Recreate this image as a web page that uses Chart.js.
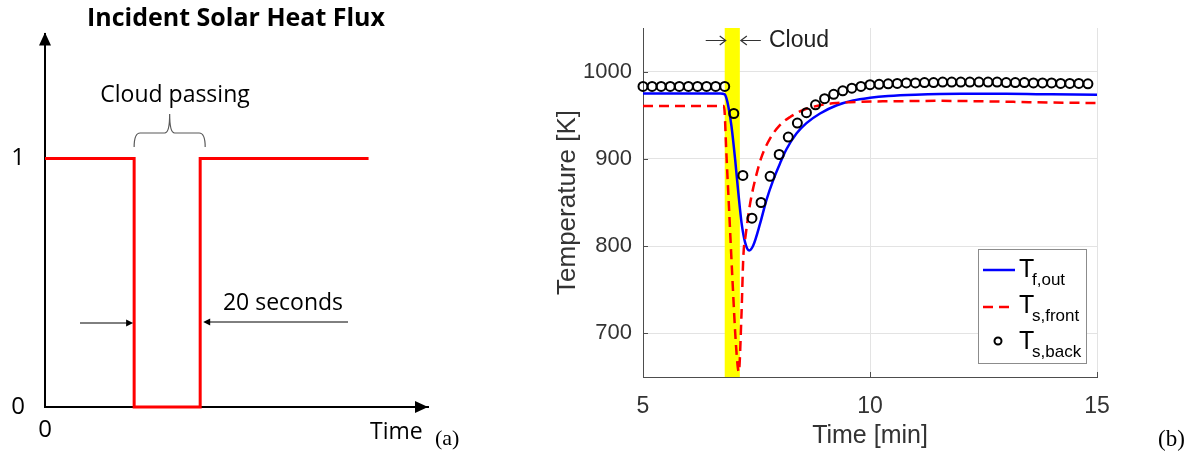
<!DOCTYPE html>
<html>
<head>
<meta charset="utf-8">
<script src="https://cdn.jsdelivr.net/npm/chart.js@4.4.0/dist/chart.umd.min.js"></script>
<style>
  html, body { margin: 0; padding: 0; background: #fff; }
  body { width: 1188px; height: 453px; position: relative; overflow: hidden; }
  #flux { position: absolute; left: 0; top: 0; }
  #temp { position: absolute; left: 470px; top: 0; }
</style>
</head>
<body>
<canvas id="flux" width="470" height="453"></canvas>
<canvas id="temp" width="718" height="453"></canvas>
<script>
// (a) normalised incident flux, time in seconds (cloud lasts 20 s)
const fluxTime = [0, 27, 27, 47, 47, 98];
const fluxValue = [1, 1, 0, 0, 1, 1];
const fluxXTicks = [0];
const fluxYTicks = [0, 1];

// (b) temperatures, time in minutes
const tempXTicks = [5, 10, 15];
const tempYTicks = [700, 800, 900, 1000];
const cloudStart = 6.8;
const cloudEnd = 7.133;

const tfTime = [5.0, 6.70, 6.80, 6.84, 6.88, 6.95, 7.03, 7.10, 7.17, 7.25, 7.34, 7.43, 7.58, 7.72, 7.87,
  8.02, 8.16, 8.38, 8.60, 8.90, 9.27, 9.63, 10.0, 10.4, 11.0, 12.0, 13.0, 14.0, 15.0];
const tfValue = [975, 975, 974, 969, 960, 937, 899, 861, 827, 804, 795, 801, 826, 853, 876,
  895, 911, 929, 941, 952, 961.5, 967, 970, 972, 973.5, 974.5, 974.5, 974, 973.5];

const frontTime = [5.0, 6.78, 6.80, 6.83, 6.90, 6.97, 7.05, 7.11, 7.17, 7.21, 7.26, 7.30, 7.36, 7.47,
  7.61, 7.80, 8.02, 8.24, 8.53, 8.90, 9.27, 9.78, 10.5, 11.5, 12.5, 13.5, 15.0];
const frontValue = [960.5, 960.5, 952, 914, 838, 762, 685, 656, 723, 788, 812, 828, 849, 876,
  902, 923.5, 939, 948, 956, 961.5, 964, 965.5, 966, 966.5, 966, 965, 964];

const backTime = [5.0, 5.2, 5.4, 5.6, 5.8, 6.0, 6.2, 6.4, 6.6, 6.8,
  7.0, 7.2, 7.4, 7.6, 7.8, 8.0, 8.2, 8.4, 8.6, 8.8, 9.0, 9.2, 9.4, 9.6, 9.8, 10.0,
  10.2, 10.4, 10.6, 10.8, 11.0, 11.2, 11.4, 11.6, 11.8, 12.0, 12.2, 12.4, 12.6, 12.8,
  13.0, 13.2, 13.4, 13.6, 13.8, 14.0, 14.2, 14.4, 14.6, 14.8];
const backValue = [983, 983, 983, 983, 983, 983, 983, 983, 983, 983,
  952, 881, 832, 850, 880, 905, 925, 941, 953, 962, 969, 974, 978, 981, 983, 985,
  985.5, 986, 986.5, 987, 987, 987.5, 987.5, 988, 988, 988, 988, 988, 988, 988,
  987.5, 987.5, 987.5, 987, 987, 987, 986.5, 986.5, 986.5, 986];

const seriesSub = ['f,out', 's,front', 's,back'];

const toXY = (xs, ys) => xs.map((x, i) => ({ x: x, y: ys[i] }));

const SANS = '"Liberation Sans", Arial, sans-serif';
const CAL = '"Open Sans", sans-serif';
const SERIF = '"Liberation Serif", "Times New Roman", serif';

function filledArrow(ctx, xFrom, xTo, y) {
  const d = Math.sign(xTo - xFrom);
  ctx.beginPath();
  ctx.moveTo(xFrom, y);
  ctx.lineTo(xTo - d * 5, y);
  ctx.stroke();
  ctx.beginPath();
  ctx.moveTo(xTo, y);
  ctx.lineTo(xTo - d * 7, y - 3.5);
  ctx.lineTo(xTo - d * 7, y + 3.5);
  ctx.closePath();
  ctx.fill();
}

function openArrow(ctx, xFrom, xTo, y) {
  const d = Math.sign(xTo - xFrom);
  ctx.beginPath();
  ctx.moveTo(xFrom, y);
  ctx.lineTo(xTo, y);
  ctx.moveTo(xTo - d * 6, y - 4.5);
  ctx.lineTo(xTo, y);
  ctx.lineTo(xTo - d * 6, y + 4.5);
  ctx.stroke();
}

const fluxDecor = {
  id: 'fluxDecor',
  afterDraw(chart) {
    const { ctx, chartArea: a, scales: { x } } = chart;
    ctx.save();
    ctx.fillStyle = '#000';
    // arrow heads on both axes
    ctx.beginPath();
    ctx.moveTo(a.left, a.top - 2);
    ctx.lineTo(a.left - 6, a.top + 11);
    ctx.lineTo(a.left + 6, a.top + 11);
    ctx.closePath();
    ctx.fill();
    ctx.beginPath();
    ctx.moveTo(a.right, a.bottom);
    ctx.lineTo(a.right - 13, a.bottom - 6);
    ctx.lineTo(a.right - 13, a.bottom + 6);
    ctx.closePath();
    ctx.fill();

    ctx.textBaseline = 'alphabetic';
    ctx.textAlign = 'center';
    ctx.font = 'bold 25px ' + CAL;
    ctx.fillText('Incident Solar Heat Flux', 236, 26);
    ctx.font = '23px ' + CAL;
    ctx.fillText('Cloud passing', 175, 102);
    ctx.fillText('20 seconds', 283, 310);
    ctx.textAlign = 'left';
    ctx.fillText('Time', 370, 439);
    ctx.font = '22px ' + SERIF;
    ctx.fillText('(a)', 435, 445);

    // brace over the cloud interval
    const x0 = x.getPixelForValue(fluxTime[1]);
    const x1 = x.getPixelForValue(fluxTime[3]) + 5;
    const mid = (x0 + x1) / 2;
    ctx.strokeStyle = '#595959';
    ctx.lineWidth = 1.2;
    ctx.beginPath();
    ctx.moveTo(x0, 147);
    ctx.quadraticCurveTo(x0, 133, x0 + 6, 133);
    ctx.lineTo(mid - 5, 133);
    ctx.quadraticCurveTo(mid, 133, mid, 114);
    ctx.quadraticCurveTo(mid, 133, mid + 5, 133);
    ctx.lineTo(x1 - 6, 133);
    ctx.quadraticCurveTo(x1, 133, x1, 147);
    ctx.stroke();

    // 20 s dimension arrows
    ctx.strokeStyle = '#000';
    ctx.lineWidth = 1;
    filledArrow(ctx, 80, x0 - 1, 323);
    filledArrow(ctx, 348, x.getPixelForValue(fluxTime[3]) + 3, 322);
    ctx.restore();
  }
};

new Chart(document.getElementById('flux'), {
  type: 'line',
  data: {
    datasets: [{
      data: toXY(fluxTime, fluxValue),
      borderColor: '#ff0000',
      borderWidth: 3,
      borderJoinStyle: 'miter',
      pointRadius: 0,
      tension: 0,
      clip: false
    }]
  },
  options: {
    responsive: false,
    animation: false,
    events: [],
    layout: { padding: { left: 0, right: 42, top: 29, bottom: 0 } },
    plugins: { legend: { display: false }, tooltip: { enabled: false } },
    scales: {
      x: {
        type: 'linear', min: 0, max: 116,
        afterBuildTicks: s => { s.ticks = fluxXTicks.map(v => ({ value: v })); },
        afterFit: s => { s.height = 46; },
        grid: { display: false, drawTicks: false },
        border: { display: true, color: '#000', width: 2 },
        ticks: { padding: 9, color: '#000', autoSkip: false, maxRotation: 0, font: { family: CAL, size: 24 }, callback: v => String(v) }
      },
      y: {
        type: 'linear', min: 0, max: 1.5,
        afterBuildTicks: s => { s.ticks = fluxYTicks.map(v => ({ value: v })); },
        afterFit: s => { s.width = 45; },
        grid: { display: false, drawTicks: false },
        border: { display: true, color: '#000', width: 2 },
        ticks: { padding: 20, color: '#000', font: { family: CAL, size: 24 }, callback: v => String(v) }
      }
    }
  },
  plugins: [fluxDecor]
});

const tempDecor = {
  id: 'tempDecor',
  beforeDatasetsDraw(chart) {
    const { ctx, chartArea: a, scales: { x } } = chart;
    const l = x.getPixelForValue(cloudStart);
    const r = x.getPixelForValue(cloudEnd);
    ctx.save();
    ctx.fillStyle = '#ffff00';
    ctx.fillRect(l, a.top, r - l, a.bottom - a.top);
    ctx.restore();
  },
  afterDraw(chart) {
    const { ctx, chartArea: a, scales: { x, y } } = chart;
    ctx.save();
    // inward tick marks
    ctx.strokeStyle = '#4d4d4d';
    ctx.lineWidth = 1;
    ctx.beginPath();
    tempXTicks.forEach(v => {
      const px = Math.round(x.getPixelForValue(v)) + 0.5;
      ctx.moveTo(px, a.bottom);
      ctx.lineTo(px, a.bottom - 5);
    });
    tempYTicks.forEach(v => {
      const py = Math.round(y.getPixelForValue(v)) + 0.5;
      ctx.moveTo(a.left, py);
      ctx.lineTo(a.left + 5, py);
    });
    ctx.stroke();

    // cloud marker
    const l = x.getPixelForValue(cloudStart);
    const r = x.getPixelForValue(cloudEnd);
    ctx.strokeStyle = '#333';
    ctx.lineWidth = 1.2;
    openArrow(ctx, l - 19, l + 1, 40.5);
    openArrow(ctx, r + 21, r + 1, 40.5);
    ctx.fillStyle = '#222';
    ctx.font = '23px ' + SANS;
    ctx.textAlign = 'left';
    ctx.textBaseline = 'alphabetic';
    ctx.fillText('Cloud', 299, 46.5);

    // legend
    const bx = 508, by = 249, bw = 108, bh = 114;
    ctx.fillStyle = '#fff';
    ctx.fillRect(bx, by, bw, bh);
    ctx.strokeStyle = '#8c8c8c';
    ctx.lineWidth = 1;
    ctx.strokeRect(bx + 0.5, by + 0.5, bw, bh);

    const ds = chart.data.datasets;
    const rows = [270, 307, 341];
    ctx.lineWidth = 2.5;
    ctx.strokeStyle = ds[0].borderColor;
    ctx.beginPath(); ctx.moveTo(513, rows[0]); ctx.lineTo(545, rows[0]); ctx.stroke();
    ctx.strokeStyle = ds[1].borderColor;
    ctx.setLineDash(ds[1].borderDash);
    ctx.beginPath(); ctx.moveTo(513, rows[1]); ctx.lineTo(545, rows[1]); ctx.stroke();
    ctx.setLineDash([]);
    ctx.strokeStyle = ds[2].pointBorderColor;
    ctx.lineWidth = 2;
    ctx.beginPath(); ctx.arc(528, rows[2], 3.5, 0, Math.PI * 2); ctx.stroke();

    ctx.fillStyle = '#000';
    const bases = [277, 313, 349];
    seriesSub.forEach((s, i) => {
      ctx.font = '25px ' + SANS;
      ctx.fillText('T', 549, bases[i]);
      ctx.font = '17px ' + SANS;
      ctx.fillText(s, 562, bases[i] + 8);
    });

    ctx.font = '23px ' + SERIF;
    ctx.fillText('(b)', 688, 446);
    ctx.restore();
  }
};

new Chart(document.getElementById('temp'), {
  type: 'line',
  data: {
    datasets: [
      {
        label: 'T_f,out',
        data: toXY(tfTime, tfValue),
        borderColor: '#0000ff',
        borderWidth: 2.5,
        pointRadius: 0,
        cubicInterpolationMode: 'monotone',
        clip: false,
        order: 3
      },
      {
        label: 'T_s,front',
        data: toXY(frontTime, frontValue),
        borderColor: '#ff0000',
        borderWidth: 2.5,
        borderDash: [10, 6],
        pointRadius: 0,
        cubicInterpolationMode: 'monotone',
        clip: false,
        order: 2
      },
      {
        label: 'T_s,back',
        data: toXY(backTime, backValue),
        showLine: false,
        pointRadius: 4.5,
        pointBorderWidth: 2,
        pointBorderColor: '#000',
        pointBackgroundColor: 'rgba(0,0,0,0)',
        clip: false,
        order: 1
      }
    ]
  },
  options: {
    responsive: false,
    animation: false,
    events: [],
    layout: { padding: { left: 0, right: 91, top: 28, bottom: 0 } },
    plugins: { legend: { display: false }, tooltip: { enabled: false } },
    scales: {
      x: {
        type: 'linear', min: 5, max: 15,
        afterBuildTicks: s => { s.ticks = tempXTicks.map(v => ({ value: v })); },
        afterFit: s => { s.height = 76; },
        grid: { color: '#e3e3e3', drawTicks: false },
        border: { display: true, color: '#4d4d4d', width: 1 },
        ticks: { padding: 16, color: '#333', autoSkip: false, maxRotation: 0, font: { family: SANS, size: 23 }, callback: v => String(v) },
        title: { display: true, text: 'Time [min]', color: '#333', font: { family: SANS, size: 25 }, padding: { top: 0, bottom: 2 } }
      },
      y: {
        type: 'linear', min: 650, max: 1050,
        afterBuildTicks: s => { s.ticks = tempYTicks.map(v => ({ value: v })); },
        afterFit: s => { s.width = 173; },
        grid: { color: '#e3e3e3', drawTicks: false },
        border: { display: true, color: '#4d4d4d', width: 1 },
        ticks: { padding: 11, color: '#333', font: { family: SANS, size: 22 }, callback: v => String(v) },
        title: { display: true, text: 'Temperature [K]', color: '#333', font: { family: SANS, size: 26 }, padding: { top: 82, bottom: 0 } }
      }
    }
  },
  plugins: [tempDecor]
});
</script>
</body>
</html>
